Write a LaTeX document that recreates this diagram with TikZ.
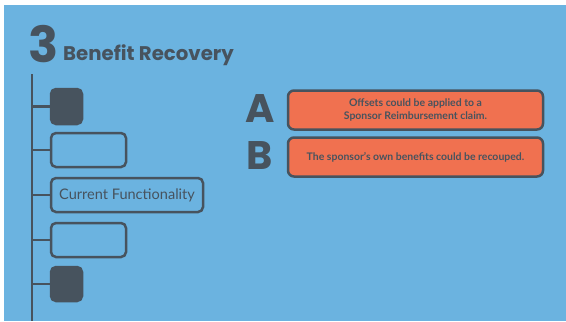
\documentclass[tikz,border=0pt]{standalone}
\usepackage{fontspec}
\setmainfont{Lato}
\newfontfamily\headfont{Poppins}
\definecolor{skyblue}{HTML}{6BB3E0}
\definecolor{slate}{HTML}{47535E}
\definecolor{salmon}{HTML}{F07150}
\tikzset{
  stage/.style={draw=slate, line width=2.5bp, rounded corners=5bp, inner sep=0pt},
  stagefull/.style={stage, fill=slate},
  option/.style={draw=slate, line width=2.5bp, rounded corners=6bp, fill=salmon,
    minimum width=255bp, minimum height=39bp, inner sep=0pt, align=center,
    text=slate, font=\fontsize{10.5}{12.5}\selectfont\bfseries},
  letter/.style={text=slate, inner sep=0pt, font=\headfont\fontsize{40}{40}\selectfont\bfseries}
}
\begin{document}
\begin{tikzpicture}[x=1bp,y=-1bp]
\useasboundingbox (0,0) rectangle (566,321);
\fill[white] (0,0) rectangle (566,321);
\fill[skyblue] (4,5) rectangle (566,321);

\draw (28,62) node[anchor=base west, inner sep=0pt, text=slate,
  font=\headfont\fontsize{50}{50}\selectfont\bfseries] (num) {3};
\draw (63,60) node[anchor=base west, inner sep=0pt, text=slate,
  font=\headfont\fontsize{19.8}{19.8}\selectfont\bfseries] (title) {Benefit Recovery};

\coordinate (top) at (32,74);
\coordinate (bot) at (32,321);
\draw[slate, line width=2.5bp] (top) -- (bot);

\draw (66.5,106.5) node[stagefull, minimum width=31bp, minimum height=35bp] (s1) {};
\draw (88.5,150) node[stage, minimum width=75bp, minimum height=34bp] (s2) {};
\draw (127,195) node[stage, minimum width=152bp, minimum height=34bp,
  text=slate, font=\fontsize{14.6}{14.6}\selectfont] (s3) {Current Functionality};
\draw (88.5,240) node[stage, minimum width=75bp, minimum height=34bp] (s4) {};
\draw (66.5,284) node[stagefull, minimum width=31bp, minimum height=34bp] (s5) {};

\foreach \s in {s1,s2,s3,s4,s5}
  \draw[slate, line width=2.5bp] (top |- \s.west) -- (\s.west);

\draw (260,108.5) node[letter] (la) {A};
\draw (260,156) node[letter] (lb) {B};
\draw (415.5,110) node[option] (oa) {Offsets could be applied to a\\Sponsor Reimbursement claim.};
\draw (415.5,157) node[option] (ob) {The sponsor's own benefits could be recouped.};
\end{tikzpicture}
\end{document}
